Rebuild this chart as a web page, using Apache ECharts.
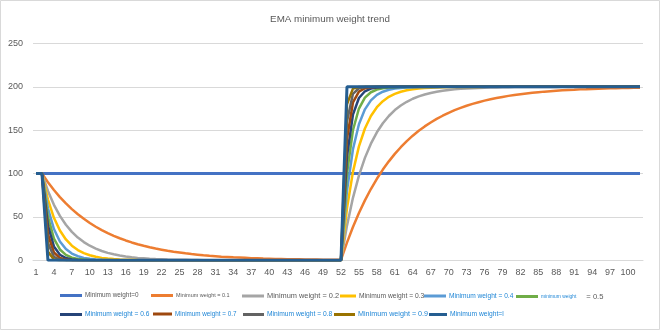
<!DOCTYPE html>
<html>
<head>
<meta charset="utf-8">
<script src="https://cdn.jsdelivr.net/npm/echarts@6/dist/echarts.min.js"></script>
<style>
html,body{margin:0;padding:0;background:#fff;}
#chart{width:660px;height:331px;}
</style>
</head>
<body>
<div id="chart"></div>
<script>
const categories = [
1,2,3,4,5,6,7,8,9,10,
11,12,13,14,15,16,17,18,19,20,
21,22,23,24,25,26,27,28,29,30,
31,32,33,34,35,36,37,38,39,40,
41,42,43,44,45,46,47,48,49,50,
51,52,53,54,55,56,57,58,59,60,
61,62,63,64,65,66,67,68,69,70,
71,72,73,74,75,76,77,78,79,80,
81,82,83,84,85,86,87,88,89,90,
91,92,93,94,95,96,97,98,99,100,
101,102
];

const seriesNames = [
'Minimum weight=0','Minimum weight = 0.1','Minimum weight = 0.2','Minimum weight = 0.3',
'Minimum weight = 0.4','Minimum weight = 0.5','Minimum weight = 0.6','Minimum weight = 0.7',
'Minimum weight = 0.8','Minimum weight = 0.9','Minimum weight=l'
];

const w00 = [
100,100,100,100,100,100,100,100,100,100,
100,100,100,100,100,100,100,100,100,100,
100,100,100,100,100,100,100,100,100,100,
100,100,100,100,100,100,100,100,100,100,
100,100,100,100,100,100,100,100,100,100,
100,100,100,100,100,100,100,100,100,100,
100,100,100,100,100,100,100,100,100,100,
100,100,100,100,100,100,100,100,100,100,
100,100,100,100,100,100,100,100,100,100,
100,100,100,100,100,100,100,100,100,100,
100,100
];

const w01 = [
100,100,
90,81,72.9,65.6,59,53.1,47.8,43,38.7,34.9,
31.4,28.2,25.4,22.9,20.6,18.5,16.7,15,13.5,12.2,
10.9,9.8,8.9,8,7.2,6.5,5.8,5.2,4.7,4.2,
3.8,3.4,3.1,2.8,2.5,2.3,2,1.8,1.6,1.5,
1.3,1.2,1.1,1,0.9,0.8,0.7,0.6,0.6,0.5,
20.4,38.4,54.6,69.1,82.2,94,104.6,114.1,122.7,130.4,
137.4,143.7,149.3,154.4,158.9,163,166.7,170.1,173.1,175.7,
178.2,180.4,182.3,184.1,185.7,187.1,188.4,189.6,190.6,191.5,
192.4,193.1,193.8,194.5,195,195.5,196,196.4,196.7,197.1,
197.3,197.6,197.9,198.1,198.3,198.4,198.6,198.7,198.9,199
];

const w02 = [
100,100,
80,64,51.2,41,32.8,26.2,21,16.8,13.4,10.7,
8.6,6.9,5.5,4.4,3.5,2.8,2.3,1.8,1.4,1.2,
0.9,0.7,0.6,0.5,0.4,0.3,0.2,0.2,0.2,0.1,
0.1,0.1,0.1,0,0,0,0,0,0,0,
0,0,0,0,0,0,0,0,0,0,
40,72,97.6,118.1,134.5,147.6,158.1,166.4,173.2,178.5,
182.8,186.3,189,191.2,193,194.4,195.5,196.4,197.1,197.7,
198.2,198.5,198.8,199.1,199.2,199.4,199.5,199.6,199.7,199.8,
199.8,199.8,199.9,199.9,199.9,199.9,200,200,200,200,
200,200,200,200,200,200,200,200,200,200
];

const w03 = [
100,100,
70,49,34.3,24,16.8,11.8,8.2,5.8,4,2.8,
2,1.4,1,0.7,0.5,0.3,0.2,0.2,0.1,0.1,
0,0,0,0,0,0,0,0,0,0,
0,0,0,0,0,0,0,0,0,0,
0,0,0,0,0,0,0,0,0,0,
60,102,131.4,152,166.4,176.5,183.5,188.5,191.9,194.4,
196,197.2,198.1,198.6,199.1,199.3,199.5,199.7,199.8,199.8,
199.9,199.9,199.9,200,200,200,200,200,200,200,
200,200,200,200,200,200,200,200,200,200,
200,200,200,200,200,200,200,200,200,200
];

const w04 = [
100,100,
60,36,21.6,13,7.8,4.7,2.8,1.7,1,0.6,
0.4,0.2,0.1,0.1,0,0,0,0,0,0,
0,0,0,0,0,0,0,0,0,0,
0,0,0,0,0,0,0,0,0,0,
0,0,0,0,0,0,0,0,0,0,
80,128,156.8,174.1,184.4,190.7,194.4,196.6,198,198.8,
199.3,199.6,199.7,199.8,199.9,199.9,200,200,200,200,
200,200,200,200,200,200,200,200,200,200,
200,200,200,200,200,200,200,200,200,200,
200,200,200,200,200,200,200,200,200,200
];

const w05 = [
100,100,
50,25,12.5,6.3,3.1,1.6,0.8,0.4,0.2,0.1,
0,0,0,0,0,0,0,0,0,0,
0,0,0,0,0,0,0,0,0,0,
0,0,0,0,0,0,0,0,0,0,
0,0,0,0,0,0,0,0,0,0,
100,150,175,187.5,193.8,196.9,198.4,199.2,199.6,199.8,
199.9,200,200,200,200,200,200,200,200,200,
200,200,200,200,200,200,200,200,200,200,
200,200,200,200,200,200,200,200,200,200,
200,200,200,200,200,200,200,200,200,200
];

const w06 = [
100,100,
40,16,6.4,2.6,1,0.4,0.2,0.1,0,0,
0,0,0,0,0,0,0,0,0,0,
0,0,0,0,0,0,0,0,0,0,
0,0,0,0,0,0,0,0,0,0,
0,0,0,0,0,0,0,0,0,0,
120,168,187.2,194.9,198,199.2,199.7,199.9,199.9,200,
200,200,200,200,200,200,200,200,200,200,
200,200,200,200,200,200,200,200,200,200,
200,200,200,200,200,200,200,200,200,200,
200,200,200,200,200,200,200,200,200,200
];

const w07 = [
100,100,
30,9,2.7,0.8,0.2,0.1,0,0,0,0,
0,0,0,0,0,0,0,0,0,0,
0,0,0,0,0,0,0,0,0,0,
0,0,0,0,0,0,0,0,0,0,
0,0,0,0,0,0,0,0,0,0,
140,182,194.6,198.4,199.5,199.9,200,200,200,200,
200,200,200,200,200,200,200,200,200,200,
200,200,200,200,200,200,200,200,200,200,
200,200,200,200,200,200,200,200,200,200,
200,200,200,200,200,200,200,200,200,200
];

const w08 = [
100,100,
20,4,0.8,0.2,0,0,0,0,0,0,
0,0,0,0,0,0,0,0,0,0,
0,0,0,0,0,0,0,0,0,0,
0,0,0,0,0,0,0,0,0,0,
0,0,0,0,0,0,0,0,0,0,
160,192,198.4,199.7,199.9,200,200,200,200,200,
200,200,200,200,200,200,200,200,200,200,
200,200,200,200,200,200,200,200,200,200,
200,200,200,200,200,200,200,200,200,200,
200,200,200,200,200,200,200,200,200,200
];

const w09 = [
100,100,
10,1,0.1,0,0,0,0,0,0,0,
0,0,0,0,0,0,0,0,0,0,
0,0,0,0,0,0,0,0,0,0,
0,0,0,0,0,0,0,0,0,0,
0,0,0,0,0,0,0,0,0,0,
180,198,199.8,200,200,200,200,200,200,200,
200,200,200,200,200,200,200,200,200,200,
200,200,200,200,200,200,200,200,200,200,
200,200,200,200,200,200,200,200,200,200,
200,200,200,200,200,200,200,200,200,200
];

const w10 = [
100,100,
0,0,0,0,0,0,0,0,0,0,
0,0,0,0,0,0,0,0,0,0,
0,0,0,0,0,0,0,0,0,0,
0,0,0,0,0,0,0,0,0,0,
0,0,0,0,0,0,0,0,0,0,
200,200,200,200,200,200,200,200,200,200,
200,200,200,200,200,200,200,200,200,200,
200,200,200,200,200,200,200,200,200,200,
200,200,200,200,200,200,200,200,200,200,
200,200,200,200,200,200,200,200,200,200
];

const yTicks = [0, 50, 100, 150, 200, 250];

const seriesData = [w00,w01,w02,w03,w04,w05,w06,w07,w08,w09,w10];
const colors = ['#4472C4','#ED7D31','#A5A5A5','#FFC000','#5B9BD5','#70AD47','#264478','#9E480E','#636363','#997300','#255E91'];
const widths = [3,2.5,2.5,2.5,2.5,2.5,2.5,2.5,2.5,2.5,3];

const GRAY = '#595959';
const BLUE = '#1f86d6';
// legend layout: [left, top, iconWidth, fontSize, color]
const legendLayout = [
  [60, 292.5, 22, 6.4, GRAY],
  [151, 292.5, 22, 5.5, GRAY],
  [242, 292.5, 22, 7.4, GRAY],
  [340, 292.5, 16, 6.7, GRAY],
  [424, 292.5, 22, 6.6, BLUE],
  [516, 292.5, 22, 4.9, BLUE],
  [60, 311, 22, 6.6, BLUE],
  [153, 311, 19, 6.3, BLUE],
  [243, 311, 21, 6.7, BLUE],
  [334, 311, 21, 7.2, BLUE],
  [429, 311, 18, 6.7, BLUE]
];

const FONT = '"Liberation Sans", Arial, sans-serif';

const legends = seriesNames.map((name, i) => {
  const L = legendLayout[i];
  const lg = {
    data: [name],
    left: L[0], top: L[1],
    itemWidth: L[2], itemHeight: 3,
    icon: 'rect',
    padding: 0, itemGap: 0,
    selectedMode: false,
    textStyle: {fontSize: L[3], color: L[4], fontFamily: FONT, padding: [0,0,0,-2]}
  };
  if (i === 5) {
    lg.formatter = () => '{a|minimum weight}{b|= 0.5}';
    lg.textStyle.rich = {
      a: {fontSize: 4.9, color: BLUE, fontFamily: FONT},
      b: {fontSize: 7.6, color: GRAY, fontFamily: FONT, padding: [0,0,0,10]}
    };
  }
  return lg;
});

const chart = echarts.init(document.getElementById('chart'), null, {renderer: 'canvas'});
chart.setOption({
  animation: false,
  backgroundColor: '#fff',
  title: {
    text: 'EMA minimum weight trend',
    left: 'center', top: 14, padding: 0,
    textStyle: {fontSize: 9.8, fontWeight: 'normal', color: GRAY, fontFamily: FONT}
  },
  graphic: [{
    type: 'rect', silent: true,
    shape: {x: 0.5, y: 0.5, width: 659, height: 329},
    style: {fill: 'none', stroke: '#d9d9d9', lineWidth: 1}
  }],
  legend: legends,
  grid: {left: 33, right: 17, top: 43.5, bottom: 70.7, containLabel: false},
  xAxis: {
    type: 'category',
    data: categories,
    boundaryGap: true,
    axisLine: {lineStyle: {color: '#d9d9d9', width: 1}},
    axisTick: {show: false},
    axisLabel: {interval: 2, fontSize: 9, color: GRAY, margin: 8, fontFamily: FONT}
  },
  yAxis: {
    type: 'value',
    min: yTicks[0], max: yTicks[yTicks.length - 1], interval: 50,
    axisLine: {show: false},
    axisTick: {show: false},
    axisLabel: {fontSize: 9, color: GRAY, margin: 10, fontFamily: FONT},
    splitLine: {lineStyle: {color: '#d9d9d9', width: 1}}
  },
  series: seriesData.map((d, i) => ({
    name: seriesNames[i],
    type: 'line',
    data: d,
    symbol: 'none',
    color: colors[i],
    lineStyle: {width: widths[i], color: colors[i]},
    emphasis: {disabled: true}
  }))
});
</script>
</body>
</html>
